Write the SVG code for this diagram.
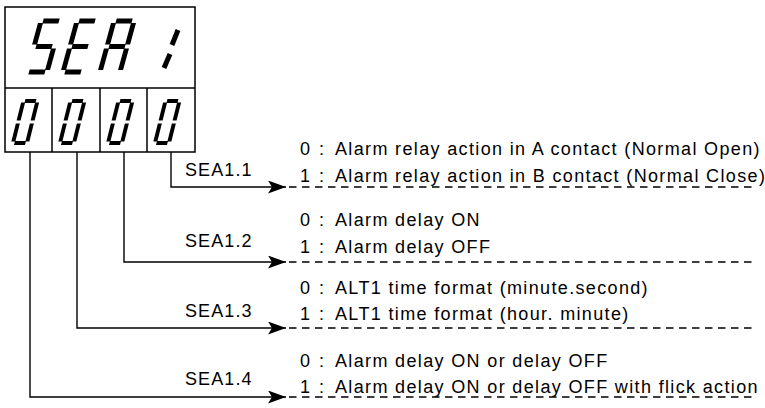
<svg xmlns="http://www.w3.org/2000/svg" width="765" height="408" viewBox="0 0 765 408">
<style>
.box{fill:#fff;stroke:#000;stroke-width:1.5}
.seg{fill:none;stroke:#000;stroke-width:5;stroke-linecap:butt}
.sseg{fill:none;stroke:#000;stroke-width:4;stroke-linecap:butt}
.conn{fill:none;stroke:#000;stroke-width:1.4}
.dash{fill:none;stroke:#000;stroke-width:1.3;stroke-dasharray:7.5 5.5}
.opt{font-family:"Liberation Sans",Arial,sans-serif;font-size:18px;letter-spacing:1.35px;fill:#000}
.lbl{font-family:"Liberation Sans",Arial,sans-serif;font-size:18px;letter-spacing:1.1px;fill:#000}
</style>
<defs>
<marker id="arr" markerUnits="userSpaceOnUse" markerWidth="19" markerHeight="14" refX="18" refY="6.5" orient="auto">
<path d="M0,0 L18,6.5 L0,13 L4,6.5 Z" fill="#000"/>
</marker>
<g id="z">
<path class="sseg" d="M1.5,-42H12.5M14,-40.5V-22.5M14,-19.5V-1.5M1.5,0H12.5M0,-1.5V-19.5M0,-22.5V-40.5"/>
</g>
</defs>
<g id="display">
<rect class="box" x="5" y="7" width="190" height="145"/>
<line class="box" x1="5" y1="88" x2="195" y2="88"/>
<line class="box" x1="52" y1="88" x2="52" y2="152"/>
<line class="box" x1="100" y1="88" x2="100" y2="152"/>
<line class="box" x1="147" y1="88" x2="147" y2="152"/>
<g id="glyph-S" transform="translate(27,72) skewX(-15.4)">
<path class="seg" d="M2,-51H18M0,-27.5V-49M2,-25.5H18M20,-23.5V-2M2,0H18"/>
</g>
<g id="glyph-E" transform="translate(63,72) skewX(-15.4)">
<path class="seg" d="M2,-51H18M0,-27.5V-49M2,-25.5H18M0,-2V-23.5M2,0H18"/>
</g>
<g id="glyph-A" transform="translate(100,72) skewX(-15.4)">
<path class="seg" d="M2,-51H18M20,-49V-27.5M20,-23.5V-2M0,-2V-23.5M0,-27.5V-49M2,-25.5H18"/>
</g>
<g id="glyph-colon">
<path class="seg" d="M178,30L172,45M170,54L164,68"/>
</g>
<g id="digit1"><use href="#z" transform="translate(13,143) skewX(-14)"/></g>
<g id="digit2"><use href="#z" transform="translate(60,143) skewX(-14)"/></g>
<g id="digit3"><use href="#z" transform="translate(108,143) skewX(-14)"/></g>
<g id="digit4"><use href="#z" transform="translate(155,143) skewX(-14)"/></g>
</g>
<g id="connectors">
<path class="conn" d="M171,152V187H286" marker-end="url(#arr)"/>
<path class="conn" d="M124,152V262H286" marker-end="url(#arr)"/>
<path class="conn" d="M77,152V328H286" marker-end="url(#arr)"/>
<path class="conn" d="M30,152V397H286" marker-end="url(#arr)"/>
<line class="dash" x1="289" y1="187" x2="752" y2="187"/>
<line class="dash" x1="289" y1="262" x2="752" y2="262"/>
<line class="dash" x1="289" y1="328" x2="752" y2="328"/>
<line class="dash" x1="289" y1="397" x2="752" y2="397"/>
</g>
<g id="sea11">
<text class="lbl" x="185" y="176">SEA1.1</text>
<text class="opt" y="155"><tspan x="300">0</tspan><tspan x="319">:</tspan><tspan x="335">Alarm relay action in A contact (Normal Open)</tspan></text>
<text class="opt" y="182"><tspan x="300">1</tspan><tspan x="319">:</tspan><tspan x="335">Alarm relay action in B contact (Normal Close)</tspan></text>
</g>
<g id="sea12">
<text class="lbl" x="185" y="247">SEA1.2</text>
<text class="opt" y="226"><tspan x="300">0</tspan><tspan x="319">:</tspan><tspan x="335">Alarm delay ON</tspan></text>
<text class="opt" y="253"><tspan x="300">1</tspan><tspan x="319">:</tspan><tspan x="335">Alarm delay OFF</tspan></text>
</g>
<g id="sea13">
<text class="lbl" x="185" y="317">SEA1.3</text>
<text class="opt" y="294"><tspan x="300">0</tspan><tspan x="319">:</tspan><tspan x="335">ALT1 time format (minute.second)</tspan></text>
<text class="opt" y="320"><tspan x="300">1</tspan><tspan x="319">:</tspan><tspan x="335">ALT1 time format (hour. minute)</tspan></text>
</g>
<g id="sea14">
<text class="lbl" x="185" y="385">SEA1.4</text>
<text class="opt" y="367"><tspan x="300">0</tspan><tspan x="319">:</tspan><tspan x="335">Alarm delay ON or delay OFF</tspan></text>
<text class="opt" y="393"><tspan x="300">1</tspan><tspan x="319">:</tspan><tspan x="335">Alarm delay ON or delay OFF with flick action</tspan></text>
</g>
</svg>
